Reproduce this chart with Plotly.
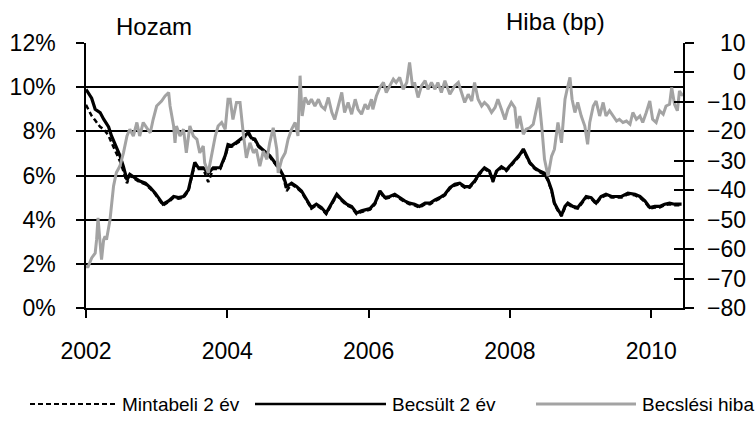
import plotly.graph_objects as go

# Values (decimal years, % and bp)

years = [
    2002.00, 2002.08, 2002.13, 2002.20, 2002.25, 2002.32, 2002.36, 2002.43, 2002.48, 2002.53,
    2002.58, 2002.62, 2002.69, 2002.76, 2002.84, 2002.91, 2002.98, 2003.05, 2003.09, 2003.17,
    2003.24, 2003.31, 2003.38, 2003.45, 2003.50, 2003.54, 2003.59, 2003.66, 2003.73, 2003.80,
    2003.90, 2003.97, 2004.01, 2004.06, 2004.13, 2004.20, 2004.25, 2004.30, 2004.34, 2004.39,
    2004.44, 2004.49, 2004.53, 2004.60, 2004.67, 2004.74, 2004.79, 2004.84, 2004.91, 2004.98,
    2005.05, 2005.12, 2005.19, 2005.26, 2005.33, 2005.40, 2005.48, 2005.55, 2005.62, 2005.69,
    2005.76, 2005.83, 2005.90, 2005.97, 2006.02, 2006.09, 2006.16, 2006.23, 2006.30, 2006.37,
    2006.44, 2006.51, 2006.58, 2006.65, 2006.72, 2006.80, 2006.87, 2006.94, 2007.01, 2007.08,
    2007.15, 2007.22, 2007.29, 2007.36, 2007.43, 2007.50, 2007.57, 2007.64, 2007.71, 2007.76,
    2007.81, 2007.88, 2007.95, 2008.02, 2008.07, 2008.14, 2008.19, 2008.23, 2008.28, 2008.35,
    2008.42, 2008.49, 2008.54, 2008.59, 2008.63, 2008.68, 2008.73, 2008.78, 2008.82, 2008.89,
    2008.96, 2009.01, 2009.08, 2009.15, 2009.22, 2009.29, 2009.36, 2009.44, 2009.51, 2009.58,
    2009.67, 2009.77, 2009.84, 2009.91, 2009.98, 2010.05, 2010.12, 2010.19, 2010.26, 2010.33,
    2010.43,
]

becsult_2ev = [
    9.90, 9.50, 9.00, 8.85, 8.55, 8.20, 7.80, 7.30, 6.90, 6.40,
    5.80, 6.05, 5.90, 5.75, 5.65, 5.45, 5.20, 4.90, 4.70, 4.85,
    5.05, 5.00, 5.05, 5.35, 6.10, 6.60, 6.35, 6.35, 6.10, 6.35,
    6.35, 6.90, 7.40, 7.35, 7.50, 7.65, 7.80, 7.95, 7.70, 7.65,
    7.35, 7.20, 7.10, 6.90, 6.60, 6.30, 6.00, 5.50, 5.65, 5.50,
    5.30, 4.90, 4.55, 4.70, 4.55, 4.30, 4.75, 5.15, 4.90, 4.70,
    4.60, 4.30, 4.40, 4.45, 4.50, 4.75, 5.30, 5.00, 5.05, 5.15,
    5.00, 4.85, 4.75, 4.70, 4.60, 4.75, 4.75, 4.90, 5.00, 5.15,
    5.45, 5.60, 5.65, 5.50, 5.50, 5.75, 6.10, 6.35, 6.20, 5.75,
    6.20, 6.40, 6.25, 6.50, 6.65, 6.95, 7.20, 6.95, 6.60, 6.35,
    6.20, 6.10, 5.80, 5.35, 4.75, 4.45, 4.20, 4.60, 4.75, 4.60,
    4.55, 4.75, 5.05, 5.00, 4.75, 5.05, 5.15, 5.05, 5.05, 5.05,
    5.20, 5.15, 5.05, 4.85, 4.55, 4.60, 4.60, 4.70, 4.75, 4.70,
    4.70,
]

mintabeli_2ev = [
    9.20, 8.70, 8.50, 8.20, 8.10, 7.80, 7.50, 7.00, 6.65, 6.20,
    5.65, 6.00, 5.85, 5.70, 5.60, 5.40, 5.15, 4.85, 4.65, 4.80,
    5.00, 4.95, 5.00, 5.30, 6.00, 6.50, 6.30, 6.30, 5.70, 6.30,
    6.30, 6.85, 7.30, 7.30, 7.45, 7.60, 7.75, 7.90, 7.65, 7.60,
    7.30, 7.15, 7.05, 6.85, 6.55, 6.25, 5.95, 5.30, 5.60, 5.45,
    5.25, 4.85, 4.50, 4.65, 4.50, 4.25, 4.70, 5.10, 4.85, 4.65,
    4.55, 4.25, 4.35, 4.40, 4.45, 4.70, 5.25, 4.95, 5.00, 5.10,
    4.95, 4.80, 4.70, 4.65, 4.55, 4.70, 4.70, 4.85, 4.95, 5.10,
    5.40, 5.55, 5.60, 5.45, 5.45, 5.70, 6.05, 6.30, 6.15, 5.70,
    6.15, 6.35, 6.20, 6.45, 6.60, 6.90, 7.15, 6.90, 6.55, 6.30,
    6.15, 6.05, 5.75, 5.30, 4.70, 4.40, 4.15, 4.55, 4.70, 4.55,
    4.50, 4.70, 5.00, 4.95, 4.70, 5.00, 5.10, 5.00, 5.00, 5.00,
    5.15, 5.10, 5.00, 4.80, 4.50, 4.55, 4.55, 4.65, 4.70, 4.65,
    4.65,
]

years_hiba = [
    2002.00, 2002.03, 2002.08, 2002.13, 2002.15, 2002.17, 2002.20, 2002.22, 2002.25, 2002.27,
    2002.29, 2002.34, 2002.39, 2002.43, 2002.48, 2002.53, 2002.58, 2002.62, 2002.67, 2002.72,
    2002.76, 2002.81, 2002.86, 2002.91, 2002.95, 2003.00, 2003.07, 2003.12, 2003.17, 2003.19,
    2003.24, 2003.26, 2003.28, 2003.33, 2003.38, 2003.42, 2003.47, 2003.52, 2003.57, 2003.61,
    2003.66, 2003.68, 2003.73, 2003.78, 2003.83, 2003.87, 2003.92, 2003.97, 2004.01, 2004.04,
    2004.08, 2004.13, 2004.18, 2004.23, 2004.27, 2004.32, 2004.37, 2004.41, 2004.46, 2004.51,
    2004.56, 2004.60, 2004.65, 2004.70, 2004.72, 2004.77, 2004.82, 2004.86, 2004.91, 2004.96,
    2005.00, 2005.03, 2005.06, 2005.10, 2005.15, 2005.19, 2005.24, 2005.29, 2005.33, 2005.38,
    2005.43, 2005.48, 2005.52, 2005.57, 2005.62, 2005.66, 2005.71, 2005.76, 2005.81, 2005.85,
    2005.90, 2005.95, 2005.99, 2006.04, 2006.06, 2006.11, 2006.16, 2006.21, 2006.25, 2006.30,
    2006.35, 2006.39, 2006.44, 2006.49, 2006.54, 2006.58, 2006.62, 2006.65, 2006.70, 2006.75,
    2006.80, 2006.84, 2006.89, 2006.94, 2006.98, 2007.03, 2007.08, 2007.15, 2007.22, 2007.27,
    2007.31, 2007.36, 2007.41, 2007.46, 2007.50, 2007.55, 2007.60, 2007.64, 2007.69, 2007.74,
    2007.79, 2007.83, 2007.88, 2007.93, 2007.97, 2008.02, 2008.07, 2008.10, 2008.14, 2008.19,
    2008.23, 2008.28, 2008.33, 2008.37, 2008.41, 2008.45, 2008.49, 2008.54, 2008.59, 2008.63,
    2008.68, 2008.73, 2008.78, 2008.81, 2008.85, 2008.88, 2008.92, 2008.96, 2009.01, 2009.06,
    2009.10, 2009.13, 2009.18, 2009.22, 2009.27, 2009.32, 2009.36, 2009.41, 2009.46, 2009.51,
    2009.55, 2009.60, 2009.65, 2009.70, 2009.74, 2009.79, 2009.84, 2009.88, 2009.93, 2009.98,
    2010.02, 2010.07, 2010.12, 2010.17, 2010.21, 2010.26, 2010.29, 2010.33, 2010.37, 2010.40,
    2010.45,
]

becslesi_hiba = [
    -66.0, -66.0, -63.0, -61.4, -56.8, -49.4, -58.0, -63.6, -56.8, -55.7,
    -56.8, -50.0, -38.6, -34.0, -31.8, -27.3, -21.6, -19.3, -21.6, -17.0,
    -21.6, -17.0, -18.8, -20.5, -16.0, -11.4, -9.7, -8.0, -6.8, -11.4,
    -18.2, -23.9, -18.2, -21.6, -19.3, -27.3, -18.2, -21.6, -22.7, -27.3,
    -25.0, -30.7, -34.1, -27.3, -21.6, -18.2, -17.0, -19.3, -9.1, -9.1,
    -16.0, -10.2, -10.2, -21.6, -29.0, -23.9, -27.3, -26.1, -31.8, -26.7,
    -29.5, -23.9, -18.8, -26.1, -34.1, -29.5, -27.3, -22.7, -19.3, -17.0,
    -21.6, -1.1, -14.8, -8.5, -10.8, -9.1, -11.4, -9.1, -11.4, -12.5,
    -8.5, -13.6, -16.0, -11.4, -6.8, -13.6, -10.2, -14.2, -9.1, -12.5,
    -14.2, -10.8, -12.5, -9.1, -12.5, -8.0, -5.1, -3.4, -6.8, -4.5,
    -2.3, -3.4, -1.7, -5.7, -3.4, 3.4, -4.5, -3.4, -8.5, -4.5,
    -2.8, -5.7, -3.4, -5.7, -3.4, -6.8, -2.8, -7.4, -4.5, -3.4,
    -6.8, -10.2, -7.4, -9.7, -3.4, -9.1, -11.4, -10.2, -11.4, -13.6,
    -11.9, -9.1, -12.5, -16.0, -12.5, -10.2, -12.0, -19.0, -14.8, -21.0,
    -19.3, -18.8, -17.6, -12.5, -8.5, -18.2, -29.5, -35.2, -28.4, -26.1,
    -17.0, -23.9, -9.1, -5.7, -1.7, -9.1, -13.6, -10.2, -14.8, -18.2,
    -24.4, -17.0, -11.4, -9.7, -14.8, -10.2, -14.8, -13.0, -14.8, -16.5,
    -15.9, -17.0, -16.5, -17.6, -13.6, -15.9, -14.8, -17.0, -13.6, -9.7,
    -15.9, -17.0, -13.0, -14.2, -11.4, -10.8, -5.1, -10.8, -13.0, -6.3,
    -8.0,
]

x_ticks = [2002, 2004, 2006, 2008, 2010]
left_ticks = [0, 2, 4, 6, 8, 10, 12]
left_labels = [f"{v}%" for v in left_ticks]
right_ticks = [10, 0, -10, -20, -30, -40, -50, -60, -70, -80]

FONT = "Liberation Sans, Arial, sans-serif"
BLACK = "#000000"
GREY = "#a3a3a3"
TICK_SIZE = 23

# plot area in pixels (figure is 755 x 424)
L, R, T, B = 86, 683, 43, 308


def px(x):
    return (x - L) / (R - L)


def py(y):
    return (B - y) / (B - T)


fig = go.Figure()

fig.add_trace(go.Scatter(
    x=years, y=becsult_2ev, mode="lines", name="Becsült 2 év",
    line=dict(color=BLACK, width=3.2),
))
fig.add_trace(go.Scatter(
    x=years, y=mintabeli_2ev, mode="lines", name="Mintabeli 2 év",
    line=dict(color=BLACK, width=2.5, dash="5px,3px"),
))
fig.add_trace(go.Scatter(
    x=years_hiba, y=becslesi_hiba, mode="lines", name="Becslési hiba",
    line=dict(color=GREY, width=3), yaxis="y2",
))
# empty trace so the inner half of the right-hand ticks gets drawn
fig.add_trace(go.Scatter(x=[None], y=[None], yaxis="y3", showlegend=False, hoverinfo="skip"))

fig.update_layout(
    width=755,
    height=424,
    margin=dict(l=L, r=755 - R, t=T, b=424 - B),
    paper_bgcolor="white",
    plot_bgcolor="white",
    showlegend=False,
    font=dict(family=FONT, size=TICK_SIZE, color=BLACK),
    xaxis=dict(
        range=[2002, 2010.45],
        tickvals=x_ticks,
        ticks="outside", ticklen=8, tickwidth=1.5, tickcolor=BLACK,
        showline=True, linecolor=BLACK, linewidth=1.5,
        showgrid=False, zeroline=False, automargin=False,
        ticklabelstandoff=14,
    ),
    yaxis=dict(
        range=[0, 12],
        tickvals=left_ticks, ticktext=left_labels,
        ticks="outside", ticklen=8, tickwidth=1.5, tickcolor=BLACK,
        showline=True, linecolor=BLACK, linewidth=1.5,
        showgrid=True, gridcolor=BLACK, gridwidth=1.6,
        zeroline=False, automargin=False,
        ticklabelstandoff=16,
    ),
    yaxis2=dict(
        range=[-80, 10], overlaying="y", side="right", anchor="x",
        tickvals=right_ticks, showticklabels=False,
        ticks="outside", ticklen=9, tickwidth=1.5, tickcolor=BLACK,
        showline=True, linecolor=BLACK, linewidth=1.5,
        showgrid=False, zeroline=False, automargin=False,
    ),
    yaxis3=dict(
        range=[-80, 10], overlaying="y", side="right", anchor="x",
        tickvals=right_ticks, showticklabels=False,
        ticks="inside", ticklen=9, tickwidth=1.5, tickcolor=BLACK,
        showline=False, showgrid=False, zeroline=False, automargin=False,
    ),
)

# right-hand tick labels, right aligned like the original
for v in right_ticks:
    fig.add_annotation(
        x=px(748), xref="paper", y=v, yref="y2",
        text=str(v).replace("-", "\u2212"), showarrow=False,
        xanchor="right", yanchor="middle", font=dict(size=TICK_SIZE),
    )

# axis captions
fig.add_annotation(x=px(154), y=py(42), xref="paper", yref="paper", text="Hozam",
                   showarrow=False, xanchor="center", yanchor="bottom", font=dict(size=24))
fig.add_annotation(x=px(555), y=py(37), xref="paper", yref="paper", text="Hiba (bp)",
                   showarrow=False, xanchor="center", yanchor="bottom", font=dict(size=24))

# legend drawn by hand so the line samples are as long as in the original
legend_items = [
    ("Mintabeli 2 év", dict(color=BLACK, width=2, dash="5px,3px"), 30, 116),
    ("Becsült 2 év", dict(color=BLACK, width=2.5), 255, 386),
    ("Becslési hiba", dict(color=GREY, width=3), 536, 636),
]
leg_y = 404
for label, line, x0, x1 in legend_items:
    fig.add_shape(type="line", xref="paper", yref="paper",
                  x0=px(x0), x1=px(x1), y0=py(leg_y), y1=py(leg_y), line=line)
    fig.add_annotation(x=px(x1 + 4), y=py(leg_y), xref="paper", yref="paper", text=label,
                       showarrow=False, xanchor="left", yanchor="middle", font=dict(size=19))

# the page body has an 8px default margin; drop it so the figure fills the window
fig.write_html(
    "out.html",
    config={"displayModeBar": False},
    post_script="document.body.style.margin = '0';",
)
